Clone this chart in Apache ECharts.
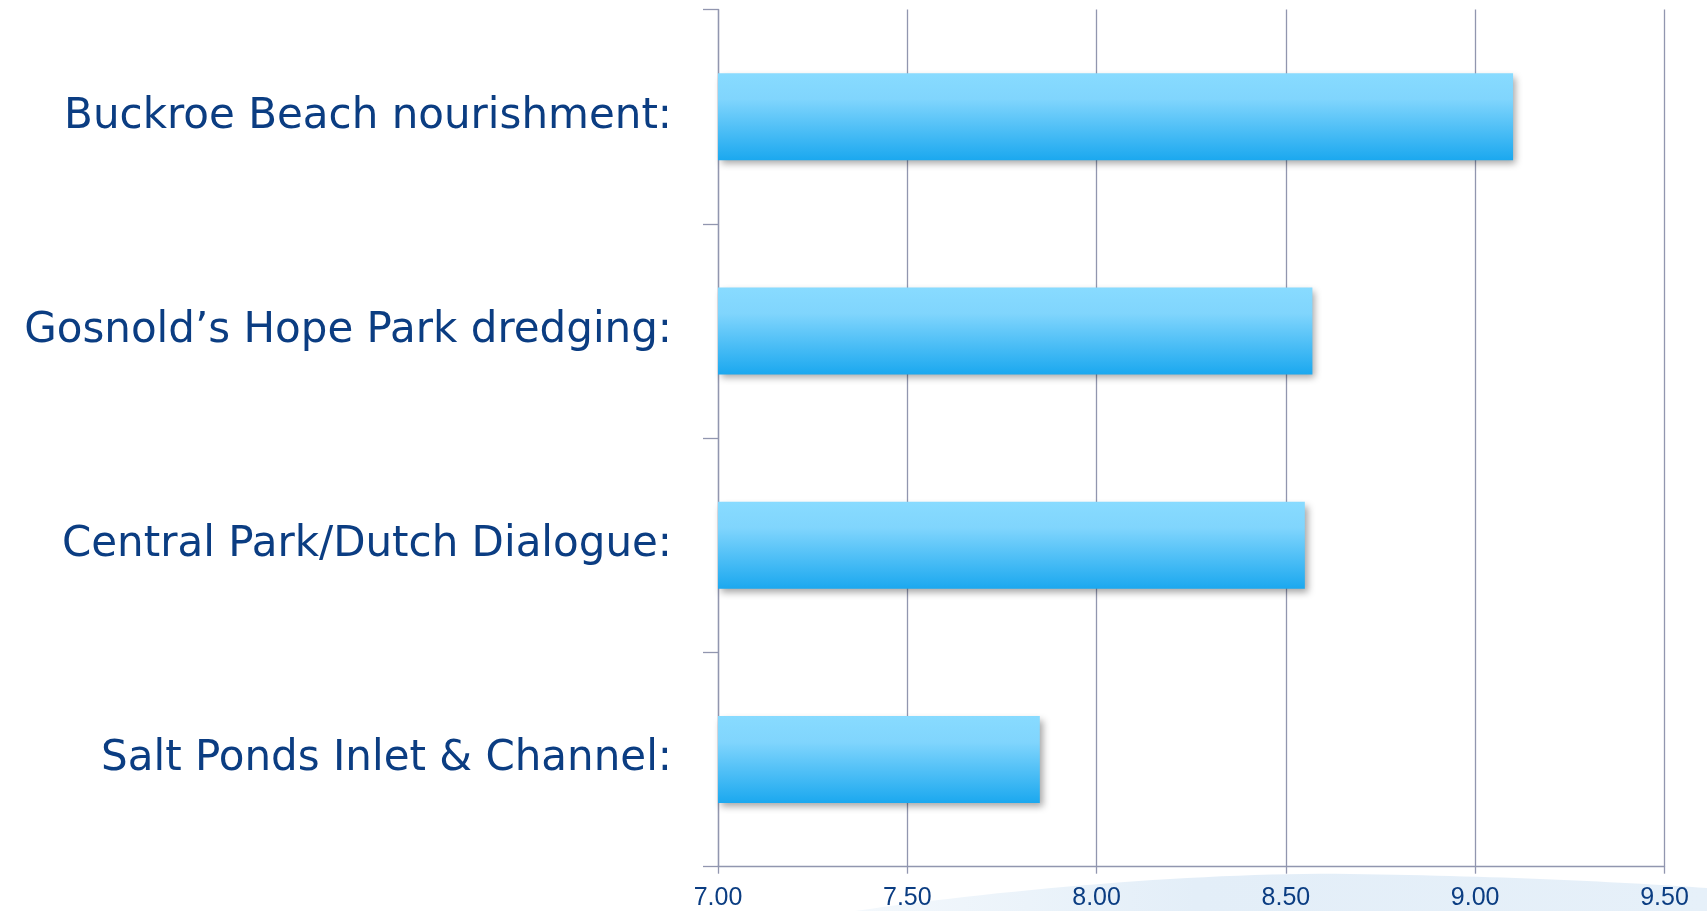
<!DOCTYPE html>
<html>
<head>
<meta charset="utf-8">
<script src="https://cdn.jsdelivr.net/npm/echarts@6/dist/echarts.min.js"></script>
<style>
html,body{margin:0;padding:0;background:#fff;}
#chart{width:1707px;height:911px;}
</style>
</head>
<body>
<div id="chart"></div>
<script>
var categories = [
  "Buckroe Beach nourishment:",
  "Gosnold\u2019s Hope Park dredging:",
  "Central Park/Dutch Dialogue:",
  "Salt Ponds Inlet & Channel:"
];
var values = [9.10, 8.57, 8.55, 7.85];
var xMin = 7.0, xMax = 9.5, xStep = 0.5;

var axisColor = '#9196AF';
var textColor = '#0B3D82';

function lin(x2, y2, stops) {
  return {type: 'linear', x: 0, y: 0, x2: x2, y2: y2, colorStops: stops, global: false};
}

// decorative slide swoosh at the bottom (background ornament, not data)
function swooshPoints() {
  var pts = [];
  function cubic(p0, p1, p2, p3, n) {
    for (var i = 0; i <= n; i++) {
      var t = i / n, u = 1 - t;
      pts.push([
        u*u*u*p0[0] + 3*u*u*t*p1[0] + 3*u*t*t*p2[0] + t*t*t*p3[0],
        u*u*u*p0[1] + 3*u*u*t*p1[1] + 3*u*t*t*p2[1] + t*t*t*p3[1]
      ]);
    }
  }
  cubic([855, 911], [1000, 890], [1200, 872], [1350, 874], 30);
  cubic([1350, 874], [1500, 876], [1620, 882], [1707, 888], 30);
  pts.push([1707, 911]);
  return pts;
}

var chart = echarts.init(document.getElementById('chart'));
chart.setOption({
  animation: false,
  backgroundColor: '#ffffff',
  graphic: [{
    type: 'polygon',
    z: -10,
    silent: true,
    shape: {points: swooshPoints()},
    style: {
      fill: lin(1, 0, [
        {offset: 0, color: 'rgba(226,238,248,0.4)'},
        {offset: 0.4, color: '#E3EEF8'},
        {offset: 1, color: '#E6F0F9'}
      ])
    }
  }],
  grid: {left: 718, right: 42.5, top: 9.5, bottom: 44.3, containLabel: false},
  xAxis: {
    type: 'value',
    min: xMin, max: xMax, interval: xStep,
    axisLine: {show: true, lineStyle: {color: axisColor, width: 1.3}},
    axisTick: {show: true, length: 7, lineStyle: {color: axisColor, width: 1.3}},
    splitLine: {show: true, lineStyle: {color: axisColor, width: 1.3}},
    axisLabel: {
      color: textColor, fontSize: 25, fontFamily: 'Liberation Sans', margin: 19,
      formatter: function (v) { return v.toFixed(2); }
    }
  },
  yAxis: {
    type: 'category',
    inverse: true,
    data: categories,
    axisLine: {show: true, lineStyle: {color: axisColor, width: 1.3}},
    axisTick: {show: true, length: 15, lineStyle: {color: axisColor, width: 1.3}},
    splitLine: {show: false},
    axisLabel: {
      color: textColor, fontSize: 42, fontFamily: 'DejaVu Sans', margin: 46,
      padding: [14, 0, 0, 0]
    }
  },
  series: [{
    type: 'bar',
    data: values,
    barWidth: 87,
    itemStyle: {
      color: lin(0, 1, [
        {offset: 0, color: '#88DBFF'},
        {offset: 0.3, color: '#80D5FD'},
        {offset: 1, color: '#1BA8EF'}
      ]),
      shadowColor: 'rgba(0,0,0,0.35)',
      shadowBlur: 7,
      shadowOffsetX: 3,
      shadowOffsetY: 4
    }
  }]
});
</script>
</body>
</html>
